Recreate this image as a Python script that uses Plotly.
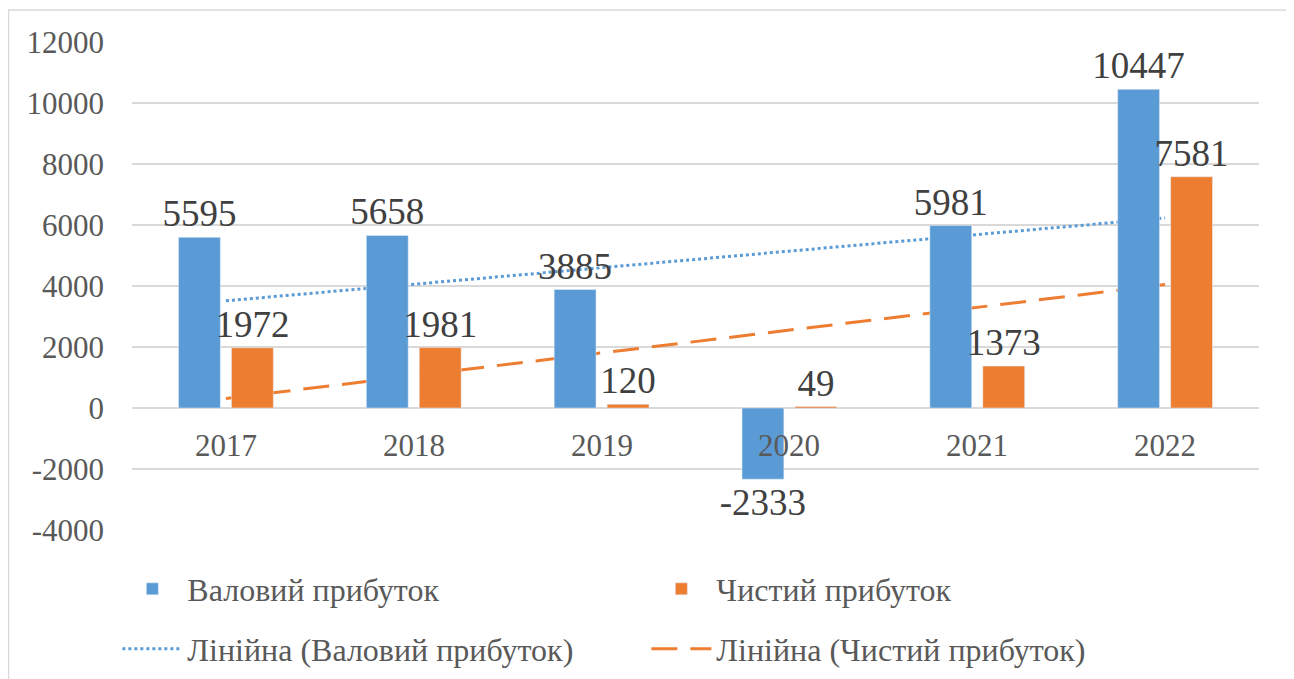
import numpy as np
import plotly.graph_objects as go

years = ['2017', '2018', '2019', '2020', '2021', '2022']
gross_profit = [5595, 5658, 3885, -2333, 5981, 10447]
net_profit = [1972, 1981, 120, 49, 1373, 7581]
y_ticks = [-4000, -2000, 0, 2000, 4000, 6000, 8000, 10000, 12000]

COLORS = {
    'gross': '#5B9BD5',
    'net': '#ED7D31',
    'text': '#595959',
    'label': '#404040',
    'grid': '#D9D9D9',
}
FONT = 'Liberation Serif'


def linear_trend(values):
    x = np.arange(1, len(values) + 1)
    k, b = np.polyfit(x, values, 1)
    return k * x + b


fig = go.Figure()

# trend lines live on the base axes so the bars (overlay axes) cover them
fig.add_trace(go.Scatter(
    x=years, y=linear_trend(gross_profit), mode='lines',
    name='Лінійна (Валовий прибуток)', legend='legend2',
    line=dict(color=COLORS['gross'], width=3, dash='dot'),
))
fig.add_trace(go.Scatter(
    x=years, y=linear_trend(net_profit), mode='lines',
    name='Лінійна (Чистий прибуток)', legend='legend2',
    line=dict(color=COLORS['net'], width=3, dash='26px,13px'),
))

for name, vals, col in [('Валовий прибуток', gross_profit, COLORS['gross']),
                        ('Чистий прибуток', net_profit, COLORS['net'])]:
    fig.add_trace(go.Bar(
        x=years, y=vals, name=name, legend='legend',
        marker_color=col, xaxis='x2', yaxis='y2',
        text=vals, textposition='outside', cliponaxis=False,
        constraintext='none',
        textfont=dict(size=37, color=COLORS['label'], family=FONT),
    ))

# category labels sit just under the zero line, as in Excel
for i, yr in enumerate(years):
    fig.add_annotation(
        x=i, y=0, xref='x', yref='y', text=yr, showarrow=False,
        yshift=-37, font=dict(size=31, color=COLORS['text'], family=FONT)
    )

# outer chart border
fig.add_shape(type='rect', xref='paper', yref='paper',
              x0=-0.1096, x1=1.0257, y0=-0.4, y1=1.0656,
              line=dict(color=COLORS['grid'], width=1.5))

yrange = [-4000, 12000]
legend_common = dict(orientation='h', x=-0.013, xanchor='left', yanchor='middle',
                     entrywidth=454, itemwidth=60, bgcolor='rgba(0,0,0,0)',
                     font=dict(size=32, color=COLORS['text'], family=FONT))
fig.update_layout(
    width=1286, height=671,
    paper_bgcolor='white', plot_bgcolor='white',
    font=dict(family=FONT, color=COLORS['text'], size=31),
    margin=dict(t=34, b=149, l=124, r=35, autoexpand=False),
    barmode='group', bargap=0.436, bargroupgap=0.21,
    xaxis=dict(type='category', showticklabels=False, showgrid=False,
               zeroline=False, range=[-0.5, 5.5]),
    yaxis=dict(range=yrange, tickvals=y_ticks, ticktext=[str(v) for v in y_ticks],
               showgrid=True, gridcolor=COLORS['grid'], gridwidth=1.5,
               zeroline=True, zerolinecolor=COLORS['grid'], zerolinewidth=1.5,
               ticklabelstandoff=27, automargin=False,
               tickfont=dict(size=31, color=COLORS['text'], family=FONT)),
    xaxis2=dict(type='category', overlaying='x', showticklabels=False,
                showgrid=False, zeroline=False, range=[-0.5, 5.5]),
    yaxis2=dict(range=yrange, overlaying='y', showticklabels=False,
                showgrid=False, zeroline=False),
    showlegend=True,
    legend=dict(y=-0.121, **legend_common),
    legend2=dict(y=-0.244, **legend_common),
    hovermode=False,
)
fig.write_html("out.html")
